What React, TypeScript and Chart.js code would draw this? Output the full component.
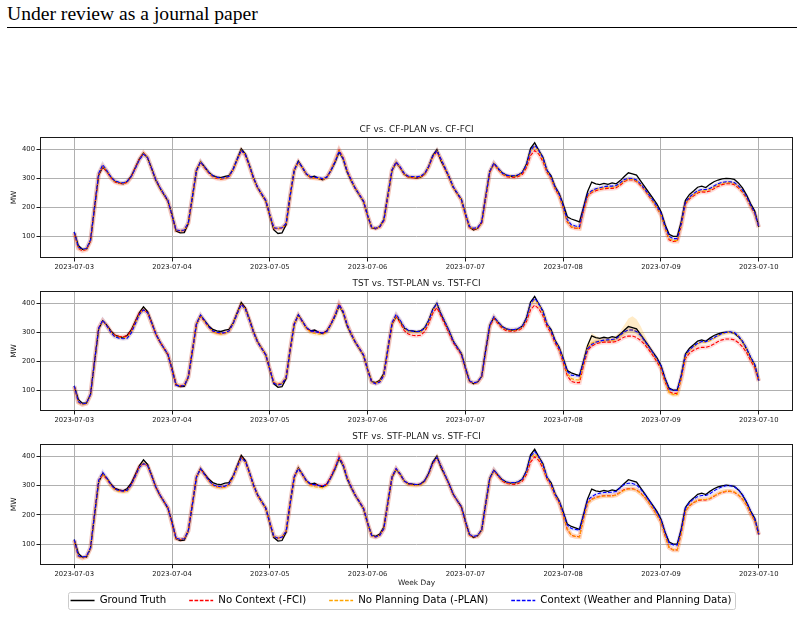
import React, { useEffect, useRef } from 'react';
import { Chart, registerables } from 'chart.js';

Chart.register(...registerables);

// ---------------- DATA ----------------
const DAY_LABELS = ['2023-07-03', '2023-07-04', '2023-07-05', '2023-07-06', '2023-07-07', '2023-07-08', '2023-07-09', '2023-07-10'];
const DAY_TICK_HOURS = [0, 24, 48, 72, 96, 120, 144, 168];
const Y_TICKS = [100, 200, 300, 400];
const LEGEND_LABELS = ['Ground Truth', 'No Context (-FCI)', 'No Planning Data (-PLAN)', 'Context (Weather and Planning Data)'];
const PANEL_TITLES = ['CF vs. CF-PLAN vs. CF-FCI', 'TST vs. TST-PLAN vs. TST-FCI', 'STF vs. STF-PLAN vs. STF-FCI'];

// hourly values, 2023-07-03 00:00 .. 2023-07-10 00:00 (MW)
const GROUND_TRUTH = [
  115, 68, 55, 55, 85, 200, 312, 340, 325, 305, 290, 285, 282, 290, 308, 338, 368, 388, 372, 335, 295, 268, 245, 222,
  175, 118, 112, 113, 145, 235, 328, 358, 340, 322, 310, 305, 303, 308, 310, 332, 368, 403, 385, 345, 302, 268, 245, 223,
  172, 122, 110, 112, 140, 240, 328, 360, 338, 315, 305, 308, 300, 296, 305, 328, 356, 392, 368, 322, 292, 265, 243, 220,
  172, 130, 126, 134, 158, 245, 328, 355, 338, 315, 306, 305, 302, 305, 316, 342, 380, 400, 362, 334, 305, 270, 248, 228,
  178, 132, 122, 128, 148, 240, 325, 352, 335, 320, 312, 308, 308, 312, 322, 350, 405, 424, 398, 375, 328, 310, 272, 248,
  210, 168, 160, 155, 150, 200, 255, 288, 282, 279, 283, 280, 285, 282, 293, 307, 320, 316, 312, 292, 272, 252, 232, 212,
  185, 140, 107, 100, 100, 152, 225, 245, 257, 270, 274, 269, 280, 289, 295, 299, 301, 300, 297, 285, 268, 243, 213, 188,
  133,
];

const CF_CONTEXT = [
  115, 62, 55, 58, 88, 205, 318, 348, 328, 305, 292, 287, 285, 290, 307, 335, 365, 385, 372, 335, 297, 270, 247, 225,
  172, 122, 120, 122, 148, 238, 328, 358, 340, 322, 310, 305, 302, 303, 308, 332, 366, 398, 383, 345, 302, 270, 247, 225,
  175, 130, 128, 130, 145, 242, 330, 358, 338, 316, 306, 305, 303, 300, 305, 328, 358, 395, 370, 325, 294, 266, 244, 222,
  172, 132, 128, 134, 156, 244, 330, 358, 340, 318, 308, 307, 306, 308, 318, 342, 378, 397, 368, 338, 306, 272, 250, 228,
  178, 134, 128, 130, 150, 238, 326, 354, 336, 320, 312, 310, 310, 313, 322, 348, 398, 415, 398, 372, 330, 306, 270, 246,
  205, 158, 140, 136, 134, 196, 246, 258, 265, 268, 272, 274, 274, 276, 285, 297, 301, 300, 295, 282, 264, 245, 226, 205,
  180, 135, 100, 92, 92, 145, 218, 236, 248, 258, 262, 262, 266, 274, 282, 287, 289, 289, 286, 275, 260, 238, 208, 182,
  133,
];
const CF_NO_PLAN = [
  112, 60, 52, 56, 86, 203, 316, 345, 326, 303, 290, 285, 283, 288, 306, 336, 366, 387, 372, 334, 296, 268, 246, 223,
  172, 121, 119, 121, 147, 237, 330, 357, 338, 320, 308, 303, 300, 301, 307, 331, 366, 398, 382, 344, 300, 268, 246, 224,
  174, 129, 127, 129, 144, 240, 330, 357, 337, 315, 304, 302, 300, 298, 304, 330, 360, 396, 371, 325, 293, 265, 243, 221,
  171, 131, 128, 133, 155, 242, 330, 357, 338, 316, 306, 305, 304, 306, 316, 341, 376, 396, 368, 336, 304, 270, 248, 226,
  176, 132, 126, 128, 148, 236, 324, 352, 334, 318, 310, 308, 308, 311, 320, 345, 395, 410, 394, 368, 326, 303, 268, 243,
  200, 152, 134, 130, 128, 190, 240, 255, 262, 265, 268, 270, 270, 272, 281, 293, 298, 297, 292, 279, 262, 243, 222, 200,
  176, 130, 92, 85, 86, 140, 214, 233, 244, 254, 258, 258, 262, 270, 278, 283, 286, 286, 283, 272, 256, 235, 205, 180,
  132,
];
const CF_NO_FCI = [
  110, 58, 50, 54, 84, 200, 314, 340, 324, 302, 288, 283, 282, 287, 306, 337, 368, 388, 372, 333, 296, 268, 245, 222,
  170, 120, 118, 120, 146, 236, 330, 356, 337, 319, 306, 300, 298, 300, 306, 331, 366, 396, 380, 342, 300, 268, 246, 224,
  173, 128, 126, 128, 143, 240, 330, 357, 337, 314, 303, 302, 300, 297, 304, 330, 362, 399, 372, 326, 294, 266, 244, 222,
  170, 130, 127, 132, 154, 241, 330, 356, 337, 315, 305, 303, 302, 305, 315, 340, 375, 393, 366, 334, 303, 270, 247, 225,
  174, 130, 125, 127, 146, 234, 322, 350, 332, 316, 307, 305, 304, 307, 315, 338, 380, 397, 385, 360, 322, 300, 265, 240,
  198, 150, 132, 128, 127, 188, 238, 252, 258, 262, 265, 266, 266, 268, 277, 290, 296, 295, 290, 276, 260, 240, 220, 198,
  174, 128, 88, 82, 83, 138, 212, 230, 240, 250, 254, 253, 257, 265, 273, 279, 282, 282, 279, 268, 253, 232, 203, 178,
  131,
];

const TST_CONTEXT = [
  115, 60, 52, 55, 86, 202, 314, 342, 322, 300, 284, 280, 278, 280, 298, 330, 362, 378, 368, 332, 295, 268, 246, 224,
  170, 118, 114, 116, 146, 236, 330, 360, 340, 320, 305, 300, 298, 299, 305, 330, 364, 396, 380, 342, 300, 266, 244, 222,
  172, 124, 118, 122, 144, 240, 328, 360, 338, 316, 305, 303, 300, 298, 303, 328, 358, 396, 372, 326, 294, 266, 244, 222,
  170, 128, 122, 128, 152, 244, 334, 362, 342, 318, 306, 304, 302, 304, 314, 340, 378, 400, 366, 336, 305, 270, 248, 226,
  176, 132, 126, 128, 148, 238, 326, 354, 336, 320, 312, 310, 310, 313, 322, 348, 400, 418, 400, 372, 330, 306, 270, 246,
  206, 165, 152, 150, 149, 198, 244, 258, 266, 270, 273, 274, 275, 278, 290, 302, 308, 308, 303, 290, 270, 250, 230, 208,
  184, 140, 104, 100, 100, 150, 222, 240, 252, 262, 268, 268, 274, 282, 290, 296, 300, 302, 299, 288, 270, 245, 214, 188,
  133,
];
const TST_NO_PLAN = [
  113, 58, 50, 54, 85, 200, 313, 340, 322, 300, 286, 282, 280, 282, 300, 332, 362, 380, 368, 331, 294, 267, 245, 223,
  170, 119, 115, 117, 146, 236, 330, 357, 337, 318, 302, 296, 294, 296, 304, 330, 364, 396, 380, 342, 300, 266, 244, 222,
  172, 126, 120, 124, 144, 240, 328, 358, 336, 313, 300, 296, 294, 293, 300, 326, 356, 394, 370, 325, 293, 265, 243, 221,
  170, 128, 124, 130, 153, 243, 330, 358, 338, 315, 303, 301, 300, 302, 312, 338, 376, 397, 366, 335, 304, 270, 248, 226,
  175, 131, 125, 127, 147, 236, 324, 352, 334, 318, 310, 308, 308, 311, 320, 345, 396, 412, 396, 370, 328, 304, 268, 244,
  203, 158, 140, 136, 135, 193, 248, 262, 268, 270, 272, 272, 272, 276, 288, 300, 308, 309, 303, 289, 268, 248, 228, 205,
  178, 132, 92, 85, 85, 143, 218, 238, 250, 260, 266, 266, 271, 279, 287, 294, 298, 300, 298, 287, 268, 242, 210, 185,
  132,
];
const TST_NO_FCI = [
  112, 58, 50, 54, 85, 201, 315, 340, 324, 302, 290, 286, 285, 288, 305, 336, 368, 378, 368, 332, 295, 268, 246, 224,
  170, 119, 115, 117, 146, 237, 330, 356, 337, 318, 304, 298, 296, 298, 305, 331, 366, 398, 382, 343, 300, 266, 244, 222,
  173, 126, 120, 124, 144, 240, 330, 358, 337, 314, 303, 302, 300, 298, 304, 330, 360, 398, 372, 326, 294, 266, 244, 222,
  170, 128, 124, 130, 152, 240, 328, 355, 332, 306, 294, 290, 288, 290, 302, 330, 366, 385, 356, 326, 296, 264, 243, 222,
  174, 130, 124, 127, 146, 234, 320, 348, 330, 314, 306, 304, 304, 307, 315, 338, 378, 394, 382, 358, 320, 298, 263, 238,
  196, 150, 130, 126, 126, 185, 238, 252, 260, 264, 266, 266, 266, 268, 276, 284, 287, 287, 282, 272, 258, 240, 220, 198,
  174, 128, 95, 89, 89, 140, 210, 228, 238, 245, 248, 248, 252, 260, 268, 274, 277, 277, 274, 264, 250, 230, 202, 178,
  131,
];
// uncertainty band of TST-PLAN around 2023-07-08 (hours 124..148)
const TST_PLAN_BAND_HOURS = [124, 125, 126, 127, 128, 129, 130, 131, 132, 133, 134, 135, 136, 137, 138, 139, 140, 141, 142, 143, 144, 145, 146, 147, 148];
const TST_PLAN_BAND_UPPER = [140, 200, 262, 298, 288, 282, 282, 283, 284, 290, 305, 325, 348, 356, 345, 322, 292, 262, 236, 210, 182, 136, 96, 90, 88];
const TST_PLAN_BAND_LOWER = [130, 186, 238, 252, 260, 262, 265, 265, 266, 270, 280, 290, 296, 296, 292, 280, 258, 240, 220, 198, 172, 126, 86, 78, 80];

const STF_CONTEXT = [
  115, 60, 55, 58, 88, 205, 318, 345, 325, 303, 288, 283, 281, 284, 302, 332, 362, 375, 368, 333, 296, 268, 246, 224,
  172, 120, 116, 118, 146, 236, 330, 357, 337, 318, 303, 298, 296, 298, 305, 330, 364, 394, 382, 344, 301, 267, 245, 223,
  173, 126, 120, 124, 144, 240, 330, 358, 338, 316, 305, 303, 300, 298, 303, 328, 358, 395, 371, 325, 294, 266, 244, 222,
  171, 129, 124, 130, 153, 243, 330, 358, 340, 316, 306, 305, 303, 305, 316, 341, 378, 396, 368, 337, 305, 271, 249, 227,
  177, 133, 126, 129, 149, 238, 326, 354, 336, 320, 312, 310, 310, 313, 322, 348, 400, 416, 400, 372, 330, 306, 270, 246,
  207, 165, 153, 150, 148, 198, 250, 262, 270, 274, 276, 276, 277, 280, 292, 304, 308, 307, 302, 288, 270, 250, 230, 208,
  184, 140, 103, 97, 97, 150, 222, 242, 254, 262, 266, 266, 272, 282, 290, 296, 299, 299, 296, 286, 268, 244, 212, 186,
  133,
];
const STF_NO_PLAN = [
  113, 58, 52, 56, 86, 202, 315, 340, 322, 300, 285, 280, 278, 280, 300, 330, 362, 377, 368, 332, 295, 267, 245, 223,
  170, 119, 115, 117, 146, 236, 330, 356, 336, 316, 300, 294, 292, 294, 302, 328, 362, 394, 380, 342, 300, 266, 244, 222,
  172, 126, 120, 124, 144, 240, 328, 358, 336, 313, 300, 296, 294, 292, 300, 326, 356, 394, 370, 325, 293, 265, 243, 221,
  170, 128, 124, 130, 153, 243, 330, 357, 338, 315, 303, 301, 300, 302, 312, 338, 376, 396, 366, 335, 304, 270, 248, 226,
  175, 131, 125, 127, 147, 236, 324, 352, 334, 318, 310, 308, 308, 311, 320, 345, 394, 408, 394, 368, 326, 303, 268, 243,
  200, 152, 130, 126, 124, 188, 240, 252, 258, 262, 264, 264, 264, 267, 276, 284, 288, 288, 284, 274, 260, 242, 222, 200,
  176, 130, 88, 80, 80, 138, 212, 232, 242, 250, 252, 252, 256, 264, 272, 278, 281, 281, 278, 268, 254, 234, 204, 180,
  132,
];
const STF_NO_FCI = [
  112, 58, 52, 56, 86, 203, 316, 336, 322, 302, 288, 283, 281, 284, 302, 334, 366, 374, 368, 333, 296, 268, 246, 224,
  170, 119, 115, 117, 146, 237, 330, 356, 337, 318, 302, 296, 294, 296, 304, 330, 364, 396, 382, 343, 300, 266, 244, 222,
  173, 126, 120, 124, 144, 240, 330, 358, 337, 314, 303, 303, 301, 299, 305, 331, 362, 400, 373, 327, 295, 267, 245, 223,
  170, 128, 124, 130, 152, 242, 330, 356, 337, 315, 305, 303, 302, 304, 314, 339, 374, 394, 366, 334, 303, 269, 247, 225,
  174, 130, 124, 127, 146, 234, 322, 350, 332, 316, 307, 305, 304, 307, 315, 338, 380, 398, 386, 360, 322, 300, 265, 240,
  198, 150, 130, 126, 125, 188, 240, 253, 259, 263, 265, 265, 265, 268, 277, 286, 289, 289, 285, 274, 260, 241, 221, 199,
  175, 128, 88, 80, 80, 138, 212, 231, 241, 249, 251, 251, 255, 263, 271, 277, 280, 280, 277, 267, 253, 233, 203, 179,
  131,
];

// ---------------- STYLE ----------------
const FONT = "'DejaVu Sans', 'Noto Sans', sans-serif";
const GRID_COLOR = '#b0b0b0';
const TEXT_COLOR = '#1a1a1a';
const X_MIN = -8.4;
const X_MAX = 176.4;
const DASH = [3.7, 1.6];
const LEGEND_PAD = 23;
const LEGEND_FONT = 10.2;
const LEGEND_TEXT_Y = 600.5; // page y of legend text centre
const LEGEND_SHIFT_X = 4.5;

type Band = { hours: number[]; upper: number[]; lower: number[]; color: string };
type PanelSpec = {
  title: string;
  top: number; // page y of canvas top
  areaHeight: number;
  yMin: number;
  yMax: number;
  noFci: number[];
  noPlan: number[];
  context: number[];
  band?: Band;
  last?: boolean;
};

const toPoints = (arr: number[]) => arr.map((y, i) => ({ x: i, y }));
const toBandPoints = (hours: number[], arr: number[]) => arr.map((y, i) => ({ x: hours[i], y }));

const makeFramePlugin = (canvasTop: number) => ({
  id: 'frameAndLegendBox',
  afterLayout(chart: any) {
    const lg = chart.legend;
    if (!lg || !lg.options.display) return;
    const wantTop = LEGEND_TEXT_Y - canvasTop - LEGEND_PAD - LEGEND_FONT / 2;
    const dy = wantTop - lg.top;
    lg.top += dy;
    lg.bottom += dy;
    lg.left += LEGEND_SHIFT_X;
    lg.right += LEGEND_SHIFT_X;
  },
  afterDatasetsDraw(chart: any) {
    const { ctx, chartArea: a } = chart;
    ctx.save();
    ctx.strokeStyle = '#1a1a1a';
    ctx.lineWidth = 1;
    const l = Math.round(a.left) + 0.5;
    const r = Math.round(a.right) - 0.5;
    const t = Math.round(a.top) + 0.5;
    const b = Math.round(a.bottom) - 0.5;
    ctx.strokeRect(l, t, r - l, b - t);
    ctx.restore();
  },
  afterDraw(chart: any) {
    const lg = chart.legend;
    if (!lg || !lg.options.display || !lg.legendHitBoxes || !lg.legendHitBoxes.length) return;
    const hb = lg.legendHitBoxes;
    const first = hb[0];
    const last = hb[hb.length - 1];
    const x0 = Math.round(first.left - 3) + 0.5;
    const x1 = Math.round(last.left + last.width + 4) + 0.5;
    const yc = first.top + first.height / 2;
    const y0 = Math.round(yc - 8.5) + 0.5;
    const y1 = Math.round(yc + 8.5) + 0.5;
    const ctx = chart.ctx;
    const rad = 2;
    ctx.save();
    ctx.strokeStyle = '#cccccc';
    ctx.lineWidth = 1;
    ctx.beginPath();
    ctx.moveTo(x0 + rad, y0);
    ctx.lineTo(x1 - rad, y0);
    ctx.quadraticCurveTo(x1, y0, x1, y0 + rad);
    ctx.lineTo(x1, y1 - rad);
    ctx.quadraticCurveTo(x1, y1, x1 - rad, y1);
    ctx.lineTo(x0 + rad, y1);
    ctx.quadraticCurveTo(x0, y1, x0, y1 - rad);
    ctx.lineTo(x0, y0 + rad);
    ctx.quadraticCurveTo(x0, y0, x0 + rad, y0);
    ctx.stroke();
    ctx.restore();
  },
});

const TOP_BLOCK = 22; // title block above the plot area
const X_AXIS_H = 17;
const LEGEND_H = 10 + LEGEND_PAD + 10;

const PanelChart: React.FC<{ spec: PanelSpec }> = ({ spec }) => {
  const ref = useRef<HTMLCanvasElement | null>(null);
  const bottomBlock = X_AXIS_H + (spec.last ? LEGEND_H : 0);
  const height = TOP_BLOCK + spec.areaHeight + bottomBlock;

  useEffect(() => {
    if (!ref.current) return;
    const datasets: any[] = [
      {
        label: LEGEND_LABELS[0], data: toPoints(GROUND_TRUTH), borderColor: '#000000', backgroundColor: '#000000',
        borderWidth: 1.3, pointRadius: 0, order: 4, fill: false,
      },
      {
        label: LEGEND_LABELS[1], data: toPoints(spec.noFci), borderColor: '#ff0000', backgroundColor: '#ff0000',
        borderWidth: 1.1, borderDash: DASH, pointRadius: 0, order: 3, fill: false,
      },
      {
        label: LEGEND_LABELS[2], data: toPoints(spec.noPlan), borderColor: '#ffa500', backgroundColor: '#ffa500',
        borderWidth: 1.1, borderDash: DASH, pointRadius: 0, order: 2, fill: false,
      },
      {
        label: LEGEND_LABELS[3], data: toPoints(spec.context), borderColor: '#0000ff', backgroundColor: '#0000ff',
        borderWidth: 1.1, borderDash: DASH, pointRadius: 0, order: 1, fill: false,
      },
      // soft uncertainty halos around each prediction
      { label: '', data: toPoints(spec.noFci), borderColor: 'rgba(255,0,0,0.14)', borderWidth: 4.5, pointRadius: 0, order: 12, fill: false },
      { label: '', data: toPoints(spec.noPlan), borderColor: 'rgba(255,165,0,0.16)', borderWidth: 4.5, pointRadius: 0, order: 11, fill: false },
      { label: '', data: toPoints(spec.context), borderColor: 'rgba(0,0,255,0.10)', borderWidth: 4, pointRadius: 0, order: 10, fill: false },
    ];
    if (spec.band) {
      datasets.push(
        { label: '', data: toBandPoints(spec.band.hours, spec.band.upper), borderWidth: 0, borderColor: 'rgba(0,0,0,0)', backgroundColor: spec.band.color, pointRadius: 0, order: 20, fill: '+1' },
        { label: '', data: toBandPoints(spec.band.hours, spec.band.lower), borderWidth: 0, borderColor: 'rgba(0,0,0,0)', pointRadius: 0, order: 21, fill: false },
      );
    }

    const chart = new Chart(ref.current, {
      type: 'line',
      data: { datasets },
      plugins: [makeFramePlugin(spec.top)],
      options: {
        responsive: false,
        animation: false,
        events: [],
        layout: { padding: { left: 0, right: 11, top: 0, bottom: 0 } },
        elements: { line: { tension: 0 } },
        plugins: {
          title: {
            display: true,
            fullSize: false,
            text: spec.title,
            color: TEXT_COLOR,
            font: { family: FONT, size: 8.9, weight: 'normal' as any, lineHeight: 1.2 },
            padding: { top: 9.6, bottom: 1.7 },
          },
          tooltip: { enabled: false },
          legend: spec.last
            ? {
                display: true,
                position: 'bottom',
                labels: {
                  usePointStyle: true,
                  pointStyle: 'line',
                  pointStyleWidth: 24,
                  padding: LEGEND_PAD,
                  color: '#000000',
                  font: { family: FONT, size: LEGEND_FONT },
                  generateLabels: (chart: any) =>
                    chart.data.datasets.slice(0, 4).map((ds: any, i: number) => ({
                      text: ds.label,
                      fillStyle: ds.borderColor,
                      strokeStyle: ds.borderColor,
                      lineWidth: ds.borderWidth + 0.2,
                      lineDash: ds.borderDash || [],
                      lineCap: 'butt',
                      pointStyle: 'line',
                      hidden: false,
                      datasetIndex: i,
                      fontColor: '#000000',
                    })),
                },
              }
            : { display: false },
        },
        scales: {
          x: {
            type: 'linear',
            min: X_MIN,
            max: X_MAX,
            afterBuildTicks: (s: any) => {
              s.ticks = DAY_TICK_HOURS.map((v) => ({ value: v }));
            },
            afterFit: (s: any) => {
              s.height = X_AXIS_H;
            },
            ticks: {
              autoSkip: false,
              maxRotation: 0,
              minRotation: 0,
              padding: 1.5,
              color: TEXT_COLOR,
              font: { family: FONT, size: 6.8 },
              callback: (_v: any, i: number) => DAY_LABELS[i],
            },
            grid: { color: GRID_COLOR, lineWidth: 1, tickLength: 3.5, tickColor: '#1a1a1a', drawTicks: true },
            border: { display: false },
            title: spec.last
              ? { display: true, text: 'Week Day', color: TEXT_COLOR, font: { family: FONT, size: 7.4, lineHeight: 1.2 }, padding: { top: 0, bottom: -5.4 } }
              : { display: false },
          },
          y: {
            type: 'linear',
            min: spec.yMin,
            max: spec.yMax,
            afterBuildTicks: (s: any) => {
              s.ticks = Y_TICKS.map((v) => ({ value: v }));
            },
            afterFit: (s: any) => {
              s.width = 40;
            },
            ticks: { padding: 1.5, color: TEXT_COLOR, font: { family: FONT, size: 6.8 } },
            grid: { color: GRID_COLOR, lineWidth: 1, tickLength: 3.5, tickColor: '#1a1a1a', drawTicks: true },
            border: { display: false },
            title: { display: true, text: 'MW', color: TEXT_COLOR, font: { family: FONT, size: 7.4, lineHeight: 1.2 }, padding: { top: 9.8, bottom: 0 } },
          },
        },
      } as any,
    });
    return () => chart.destroy();
  }, []);

  return (
    <canvas
      ref={ref}
      width={804}
      height={height}
      style={{ position: 'absolute', left: 0, top: spec.top, width: 804, height }}
    />
  );
};

const PANELS: PanelSpec[] = [
  { title: PANEL_TITLES[0], top: 137 - TOP_BLOCK, areaHeight: 121, yMin: 25, yMax: 444, noFci: CF_NO_FCI, noPlan: CF_NO_PLAN, context: CF_CONTEXT },
  {
    title: PANEL_TITLES[1], top: 291 - TOP_BLOCK, areaHeight: 120, yMin: 28, yMax: 443, noFci: TST_NO_FCI, noPlan: TST_NO_PLAN, context: TST_CONTEXT,
    band: { hours: TST_PLAN_BAND_HOURS, upper: TST_PLAN_BAND_UPPER, lower: TST_PLAN_BAND_LOWER, color: 'rgba(255,165,0,0.22)' },
  },
  { title: PANEL_TITLES[2], top: 444 - TOP_BLOCK, areaHeight: 121, yMin: 29, yMax: 442, noFci: STF_NO_FCI, noPlan: STF_NO_PLAN, context: STF_CONTEXT, last: true },
];

export default function App() {
  return (
    <div style={{ position: 'absolute', left: 0, top: 0, width: 804, height: 617, overflow: 'hidden', background: '#ffffff' }}>
      <div
        style={{
          position: 'absolute', left: 7, top: 2, fontFamily: "'Liberation Serif', 'Times New Roman', serif",
          fontSize: 19.6, lineHeight: '23px', color: '#000', whiteSpace: 'nowrap',
        }}
      >
        Under review as a journal paper
      </div>
      <div style={{ position: 'absolute', left: 7, top: 27, width: 790, height: 1, background: '#000' }} />
      {PANELS.map((p, i) => (
        <PanelChart key={i} spec={p} />
      ))}
    </div>
  );
}
